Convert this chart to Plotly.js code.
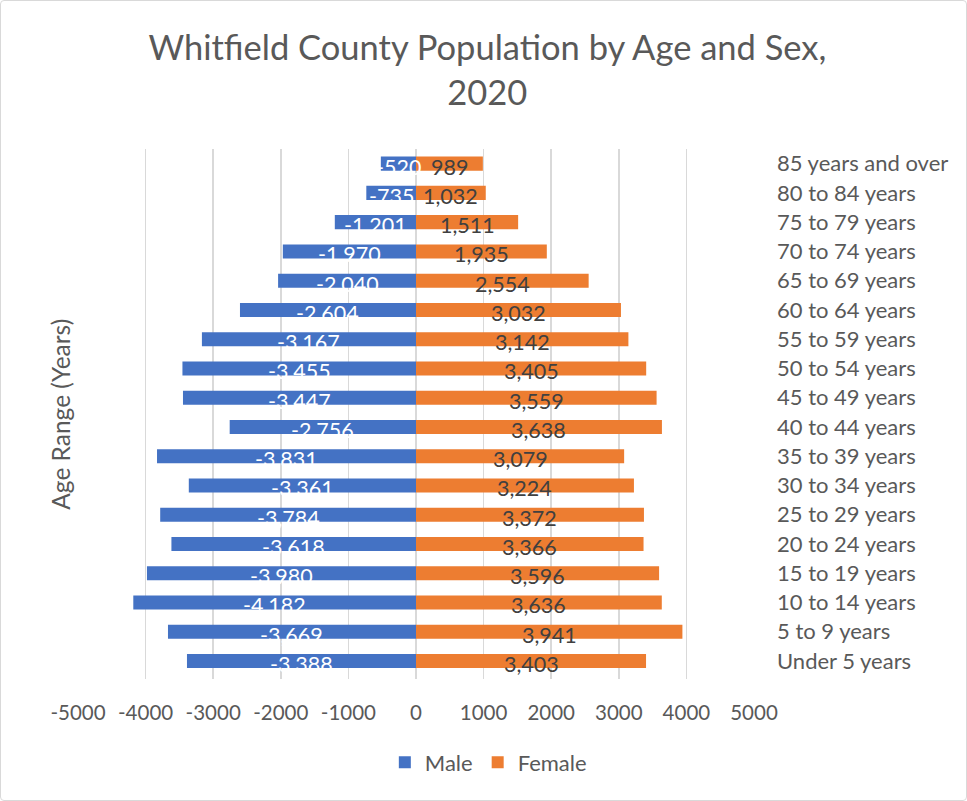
<!DOCTYPE html>
<html>
<head>
<meta charset="utf-8">
<script src="https://cdn.plot.ly/plotly-3.0.1.min.js"></script>
<style>
html,body{margin:0;padding:0;background:#fff;}
#wrap{position:relative;width:967px;height:801px;}
#chart{width:967px;height:801px;}
#frame{position:absolute;left:0;top:0;width:965px;height:799px;border:1px solid #d9d9d9;border-radius:4px;pointer-events:none;}
</style>
</head>
<body>
<div id="wrap"><div id="chart"></div><div id="frame"></div></div>
<script>
const categories = ["Under 5 years","5 to 9 years","10 to 14 years","15 to 19 years","20 to 24 years","25 to 29 years","30 to 34 years","35 to 39 years","40 to 44 years","45 to 49 years","50 to 54 years","55 to 59 years","60 to 64 years","65 to 69 years","70 to 74 years","75 to 79 years","80 to 84 years","85 years and over"];
const male = [-3388,-3669,-4182,-3980,-3618,-3784,-3361,-3831,-2756,-3447,-3455,-3167,-2604,-2040,-1970,-1201,-735,-520];
const female = [3403,3941,3636,3596,3366,3372,3224,3079,3638,3559,3405,3142,3032,2554,1935,1511,1032,989];
const xTicks = [-5000,-4000,-3000,-2000,-1000,0,1000,2000,3000,4000,5000];

const FONT = "Lato, 'Open Sans', sans-serif";
const fmt = v => (v < 0 ? "-" : "") + Math.abs(v).toLocaleString("en-US");

const traces = [
  {type:"bar", orientation:"h", name:"Male", y:categories, x:male,
   marker:{color:"#4472C4"}, hoverinfo:"x+y"},
  {type:"bar", orientation:"h", name:"Female", y:categories, x:female,
   marker:{color:"#ED7D31"}, hoverinfo:"x+y"}
];

const annotations = [];
male.forEach((v,i)=>annotations.push({x:v/2, y:categories[i], xref:"x", yref:"y", text:fmt(v), showarrow:false, yshift:-3, font:{family:FONT,size:21.5,color:"#ffffff"}}));
female.forEach((v,i)=>annotations.push({x:v/2, y:categories[i], xref:"x", yref:"y", text:fmt(v), showarrow:false, yshift:-3, font:{family:FONT,size:21.5,color:"#404040"}}));
annotations.push({xref:"paper", yref:"paper", x:-0.027, y:0.5, xanchor:"center", yanchor:"middle", textangle:-90, text:"Age Range (Years)", showarrow:false, font:{family:FONT,size:24.5,color:"#595959"}});

const layout = {
  width:967, height:801,
  margin:{l:78, r:213, t:149, b:122},
  paper_bgcolor:"#ffffff", plot_bgcolor:"#ffffff",
  font:{family:FONT, color:"#595959"},
  title:{text:"Whitfield County Population by Age and Sex,<br>2020", x:0.504, xanchor:"center", xref:"container", y:0.9245, yanchor:"bottom", yref:"container", font:{family:FONT,size:34.5,color:"#595959"}},
  barmode:"relative", bargap:0.52,
  xaxis:{range:[-5000,5000], tickvals:xTicks, ticktext:xTicks.map(String), showgrid:true, gridcolor:"#d9d9d9", gridwidth:1.5,
         zeroline:true, zerolinecolor:"#d9d9d9", zerolinewidth:1.5, showline:false, ticks:"", ticklabelstandoff:19,
         tickfont:{family:FONT,size:20.5,color:"#595959"}, fixedrange:true},
  yaxis:{type:"category", categoryorder:"array", categoryarray:categories, side:"right", showgrid:false, zeroline:false, showline:false, ticks:"",
         ticklabelstandoff:22, tickfont:{family:FONT,size:22,color:"#595959"}, fixedrange:true},
  showlegend:true,
  legend:{orientation:"h", xref:"container", yref:"container", x:0.505, xanchor:"center", y:0.048, yanchor:"middle",
          font:{family:FONT,size:22,color:"#595959"}, traceorder:"normal", itemwidth:30},
  annotations:annotations
};

Plotly.newPlot("chart", traces, layout, {displayModeBar:false, staticPlot:true});
</script>
</body>
</html>
